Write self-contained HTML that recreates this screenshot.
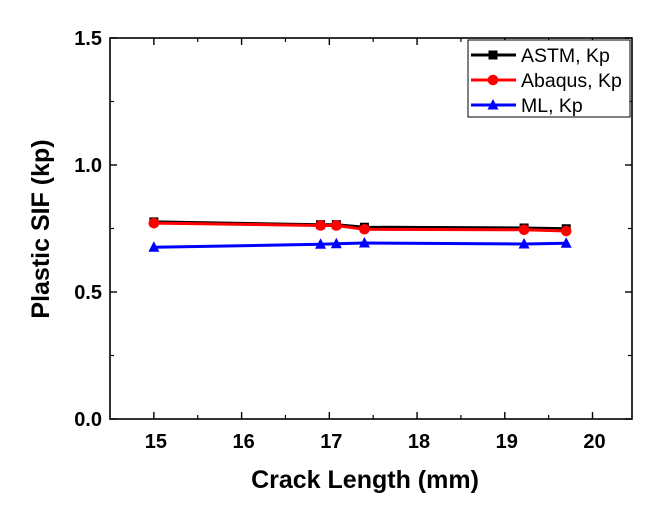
<!DOCTYPE html>
<html><head><meta charset="utf-8"><style>
body{margin:0;background:#fff;}
svg text{font-family:"Liberation Sans",Arial,sans-serif;font-weight:bold;}
</style></head><body>
<svg id="chart" width="657" height="513" xmlns="http://www.w3.org/2000/svg">
<g id="axes"></g>
<g id="series"></g>
<g id="legend"></g>
</svg>
<script>
const crackLength = [15, 16.9, 17.08, 17.4, 19.22, 19.7];
const astmKp = [0.776, 0.765, 0.765, 0.755, 0.752, 0.749];
const abaqusKp = [0.771, 0.762, 0.762, 0.747, 0.745, 0.740];
const mlKp = [0.676, 0.688, 0.690, 0.693, 0.689, 0.692];
const xTicks = [15, 16, 17, 18, 19, 20];
const yTicks = [0.0, 0.5, 1.0, 1.5];
const seriesNames = ["ASTM, Kp", "Abaqus, Kp", "ML, Kp"];

const L=110, R=632, T=38, B=419;
const xMin=14.5, xMax=20.45, yMin=0, yMax=1.5;
const sx=v=>L+(v-xMin)/(xMax-xMin)*(R-L);
const sy=v=>B-(v-yMin)/(yMax-yMin)*(B-T);
const NS="http://www.w3.org/2000/svg";
function mk(tag,attrs,parent){const e=document.createElementNS(NS,tag);for(const k in attrs)e.setAttribute(k,attrs[k]);parent.appendChild(e);return e;}
const axes=document.getElementById('axes');
let frame=mk('rect',{x:L,y:T,width:R-L,height:B-T,fill:'none',stroke:'#000','stroke-width':1.6},axes);


xTicks.forEach(v=>{
  const x=sx(v);
  let t=mk('line',{x1:x,x2:x,y1:B,y2:B-7,stroke:'#000','stroke-width':1.4},axes);
  
  
  let t2=mk('line',{x1:x,x2:x,y1:T,y2:T+7,stroke:'#000','stroke-width':1.4},axes);
  
  
  const mx=sx(v+0.5);
  if(mx<R){
    let m=mk('line',{x1:mx,x2:mx,y1:B,y2:B-4,stroke:'#000','stroke-width':1.2},axes);
    
    
    let m2=mk('line',{x1:mx,x2:mx,y1:T,y2:T+4,stroke:'#000','stroke-width':1.2},axes);
    
    }
  let lb=mk('text',{x:x+2,y:B+29,'text-anchor':'middle','font-size':20},axes);
  lb.textContent=String(v);
  
  
});
yTicks.forEach(v=>{
  const y=sy(v);
  let t=mk('line',{x1:L,x2:L+7,y1:y,y2:y,stroke:'#000','stroke-width':1.4},axes);
  
  
  let t2=mk('line',{x1:R,x2:R-7,y1:y,y2:y,stroke:'#000','stroke-width':1.4},axes);
  
  
  if(v<1.5){const my=sy(v+0.25);
    let m=mk('line',{x1:L,x2:L+4,y1:my,y2:my,stroke:'#000','stroke-width':1.2},axes);
    
    
    let m2=mk('line',{x1:R,x2:R-4,y1:my,y2:my,stroke:'#000','stroke-width':1.2},axes);
    
    }
  let lb=mk('text',{x:L-8,y:y+7,'text-anchor':'end','font-size':20},axes);
  lb.textContent=v.toFixed(1);
  
  
});
let xt=mk('text',{x:365,y:488,'text-anchor':'middle','font-size':25},axes);
xt.textContent='Crack Length (mm)';


let yt=mk('text',{x:0,y:0,'text-anchor':'middle','font-size':25,transform:'translate(49,229) rotate(-90)'},axes);
yt.textContent='Plastic SIF (kp)';



const ser=document.getElementById('series');
function marker(g,type,x,y,c,s){
  let e;
  if(type==='sq')e=mk('rect',{x:x-s,y:y-s,width:2*s,height:2*s,fill:c},g);
  else if(type==='ci')e=mk('circle',{cx:x,cy:y,r:s+0.8,fill:c},g);
  else e=mk('polygon',{points:`${x},${y-s-1.5} ${x-s-1},${y+s} ${x+s+1},${y+s}`,fill:c},g);
  return e;
}
const all=[[astmKp,'#000','sq','astm'],[abaqusKp,'#f00','ci','abaqus'],[mlKp,'#00f','tr','ml']];
all.forEach(([vals,c,t,n])=>{
  const g=mk('g',{},ser);
  
  
  const pl=mk('polyline',{points:crackLength.map((x,i)=>sx(x)+','+sy(vals[i])).join(' '),fill:'none',stroke:c,'stroke-width':3},g);
  
  
  crackLength.forEach((x,i)=>{
    const m=marker(g,t,sx(x),sy(vals[i]),c,4.5);
    
    
  });
});

const lg=document.getElementById('legend');
let box=mk('rect',{x:468,y:40,width:162,height:77,fill:'#fff',stroke:'#000','stroke-width':1},lg);


all.forEach(([v,c,t,n],i)=>{
  const y=55+i*25;
  const g=mk('g',{},lg);
  
  
  mk('line',{x1:471,x2:516,y1:y,y2:y,stroke:c,'stroke-width':3},g);
  marker(g,t,493,y,c,4.5);
  const tx=mk('text',{x:521,y:y+7,'font-size':19.5,style:'font-weight:normal'},g);
  tx.textContent=seriesNames[i];
});
</script>
</body></html>
